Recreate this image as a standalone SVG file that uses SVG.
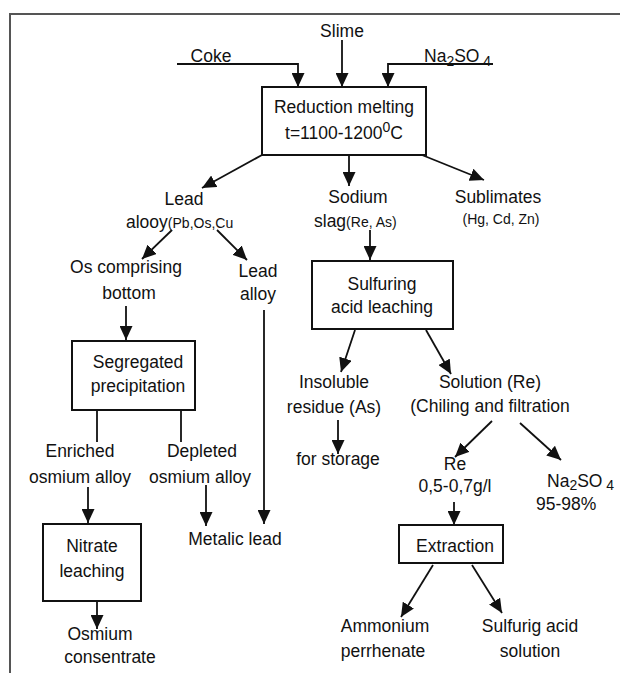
<svg xmlns="http://www.w3.org/2000/svg" width="620" height="673" viewBox="0 0 620 673">
<defs>
<marker id="ah" markerUnits="userSpaceOnUse" markerWidth="14" markerHeight="13" refX="14" refY="6.5" orient="auto">
<path d="M0,0 L14,6.5 L0,13 z" fill="#111"/>
</marker>
<style>
text{font-family:"Liberation Sans",Arial,sans-serif;font-size:17.5px;fill:#111;text-anchor:middle}
.s{font-size:14px}
.l{text-anchor:start}
.box{fill:#fff;stroke:#111;stroke-width:2}
.c line,.c polyline{stroke:#111;stroke-width:1.8;fill:none}
.a{marker-end:url(#ah)}
</style>
</defs>
<rect width="620" height="673" fill="#fff"/>
<g id="frame" stroke="#555" stroke-width="2" fill="none"><polyline points="10,673 10,14 620,14"/></g>
<g class="c" id="connectors">
<polyline class="a" points="177,64 298,64 298,87"/>
<line class="a" x1="342" y1="40" x2="342" y2="87"/>
<polyline class="a" points="493,64 388,64 388,87"/>
<line class="a" x1="262" y1="155" x2="202" y2="188"/>
<line class="a" x1="349" y1="155" x2="349" y2="186"/>
<line class="a" x1="422" y1="155" x2="484" y2="180"/>
<line class="a" x1="172" y1="230" x2="142" y2="259"/>
<line class="a" x1="217" y1="230" x2="247" y2="260"/>
<line class="a" x1="126" y1="306" x2="126" y2="340"/>
<line class="a" x1="264" y1="310" x2="264" y2="524"/>
<line class="a" x1="370" y1="230" x2="370" y2="260"/>
<line class="a" x1="355" y1="330" x2="341" y2="372"/>
<line class="a" x1="426" y1="330" x2="451" y2="374"/>
<line x1="97" y1="410" x2="97" y2="442"/>
<line x1="181" y1="410" x2="181" y2="442"/>
<line class="a" x1="338" y1="420" x2="338" y2="454"/>
<line class="a" x1="492" y1="421" x2="455" y2="457"/>
<line class="a" x1="520" y1="423" x2="561" y2="460"/>
<line class="a" x1="88" y1="487" x2="88" y2="523"/>
<line class="a" x1="206" y1="485" x2="206" y2="526"/>
<line class="a" x1="454" y1="502" x2="454" y2="525"/>
<line class="a" x1="97" y1="601" x2="97" y2="629"/>
<line class="a" x1="433" y1="565" x2="401" y2="617"/>
<line class="a" x1="472" y1="565" x2="502" y2="613"/>
</g>
<g id="slime"><text x="342" y="37">Slime</text></g>
<g id="coke"><text x="211" y="62">Coke</text></g>
<g id="na2so4-in"><text class="l" x="424" y="62">Na<tspan class="s" dy="4">2</tspan><tspan dy="-4">SO</tspan><tspan class="s" dy="4"> 4</tspan></text></g>
<g id="reduction"><rect class="box" x="262" y="87" width="164" height="68"/><text x="344" y="113">Reduction melting</text><text x="344" y="139">t=1100-1200<tspan class="s" dy="-7">0</tspan><tspan dy="7">C</tspan></text></g>
<g id="lead-alloy"><text x="184" y="205">Lead</text><text class="l" x="126" y="228">alooy<tspan class="s">(Pb,Os,Cu</tspan></text></g>
<g id="sodium-slag"><text x="358" y="203">Sodium</text><text class="l" x="314" y="227">slag<tspan class="s">(Re, As)</tspan></text></g>
<g id="sublimates"><text x="498" y="203">Sublimates</text><text class="s" x="501" y="224">(Hg, Cd, Zn)</text></g>
<g id="os-bottom"><text x="126" y="273">Os comprising</text><text x="129" y="299">bottom</text></g>
<g id="lead-alloy2"><text x="258" y="277">Lead</text><text x="258" y="300">alloy</text></g>
<g id="sulfuring"><rect class="box" x="312" y="261" width="141" height="68"/><text x="382" y="290">Sulfuring</text><text x="382" y="313">acid leaching</text></g>
<g id="segregated"><rect class="box" x="72" y="341" width="123" height="69"/><text x="138" y="368">Segregated</text><text x="138" y="392">precipitation</text></g>
<g id="insoluble"><text x="334" y="388">Insoluble</text><text x="334" y="413">residue (As)</text></g>
<g id="solution"><text x="490" y="388">Solution (Re)</text><text x="490" y="412">(Chiling and filtration</text></g>
<g id="storage"><text x="338" y="465">for storage</text></g>
<g id="re"><text x="455" y="470">Re</text><text x="455" y="492">0,5-0,7g/l</text></g>
<g id="na2so4-out"><text class="l" x="547" y="487">Na<tspan class="s" dy="3">2</tspan><tspan dy="-3">SO</tspan><tspan class="s" dy="3"> 4</tspan></text><text class="l" x="536" y="510">95-98%</text></g>
<g id="enriched"><text x="80" y="457">Enriched</text><text x="80" y="483">osmium alloy</text></g>
<g id="depleted"><text x="202" y="457">Depleted</text><text x="200" y="483">osmium alloy</text></g>
<g id="metalic-lead"><text x="235" y="545">Metalic lead</text></g>
<g id="nitrate"><rect class="box" x="43" y="524" width="98" height="77"/><text x="92" y="552">Nitrate</text><text x="92" y="577">leaching</text></g>
<g id="osmium"><text x="100" y="640">Osmium</text><text x="110" y="663">consentrate</text></g>
<g id="extraction"><rect class="box" x="399" y="525" width="104" height="38"/><text x="455" y="552">Extraction</text></g>
<g id="ammonium"><text x="385" y="632">Ammonium</text><text x="383" y="657">perrhenate</text></g>
<g id="sulfurig"><text x="530" y="632">Sulfurig acid</text><text x="530" y="657">solution</text></g>
</svg>
